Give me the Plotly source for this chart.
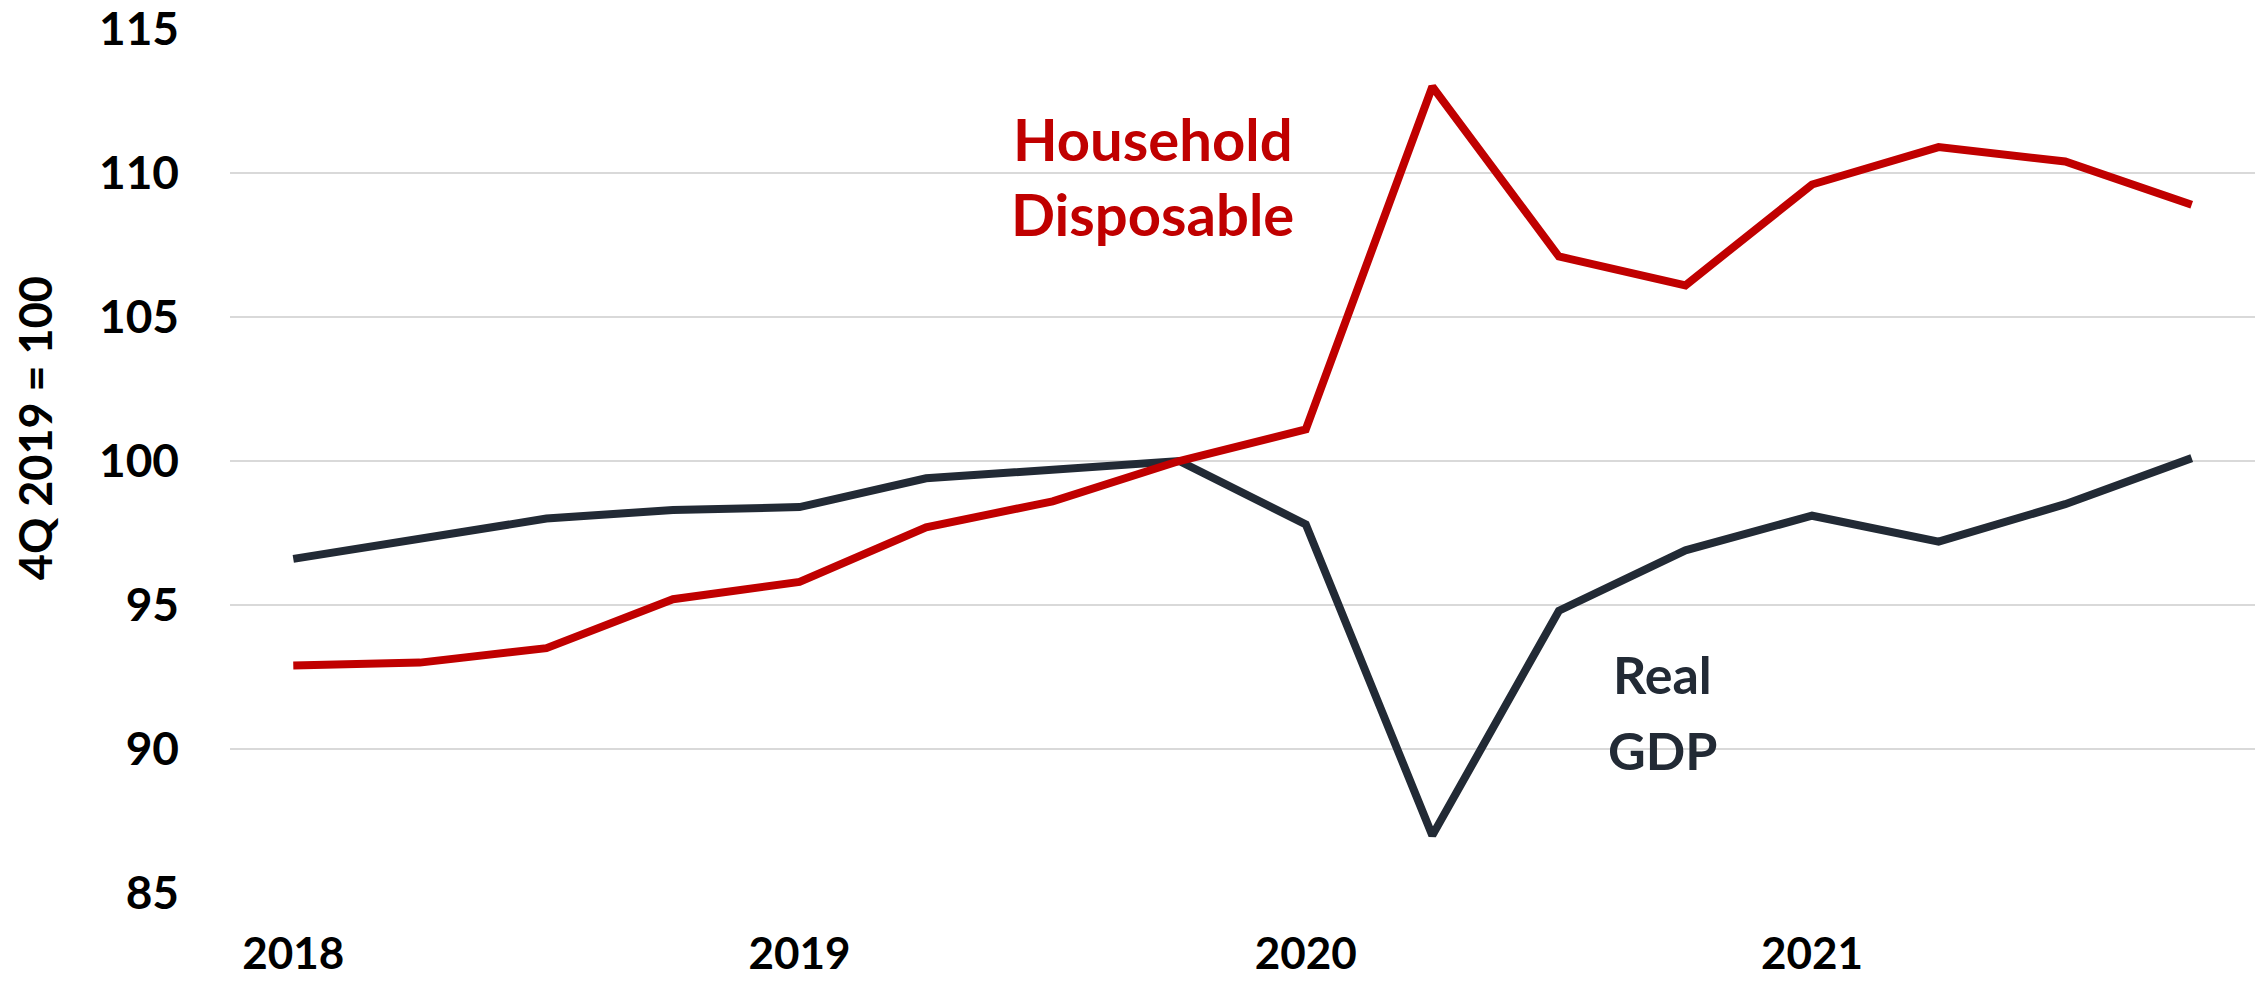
import plotly.graph_objects as go

# Quarterly index levels, 4Q 2019 = 100
quarters = ["2018Q1", "2018Q2", "2018Q3", "2018Q4",
            "2019Q1", "2019Q2", "2019Q3", "2019Q4",
            "2020Q1", "2020Q2", "2020Q3", "2020Q4",
            "2021Q1", "2021Q2", "2021Q3", "2021Q4"]
real_gdp = [96.6, 97.3, 98.0, 98.3, 98.4, 99.4, 99.7, 100.0,
            97.8, 87.0, 94.8, 96.9, 98.1, 97.2, 98.5, 100.1]
household_disposable = [92.9, 93.0, 93.5, 95.2, 95.8, 97.7, 98.6, 100.0,
                        101.1, 113.0, 107.1, 106.1, 109.6, 110.9, 110.4, 108.9]
year_ticks = ["2018", "2019", "2020", "2021"]
y_ticks = [85, 90, 95, 100, 105, 110, 115]

RED = "#C00000"
DARK = "#222A35"
FONT = "Lato"

x_idx = list(range(len(quarters)))

fig = go.Figure()
fig.add_trace(go.Scatter(x=x_idx, y=real_gdp, mode="lines",
                         line=dict(color=DARK, width=8), name="Real GDP"))
fig.add_trace(go.Scatter(x=x_idx, y=household_disposable, mode="lines",
                         line=dict(color=RED, width=8), name="Household Disposable"))

fig.update_layout(
    width=2265, height=983,
    margin=dict(l=230, r=10, t=29, b=90),
    paper_bgcolor="white", plot_bgcolor="white",
    showlegend=False,
    font=dict(family=FONT, color="black"),
)
fig.update_xaxes(
    range=[-0.5, len(quarters) - 0.5],
    tickmode="array",
    tickvals=[quarters.index(y + "Q1") for y in year_ticks],
    ticktext=year_ticks,
    tickfont=dict(family=FONT, size=44, color="black", weight="bold"),
    showgrid=False, zeroline=False, showline=False, ticks="",
    ticklabelstandoff=31, automargin=False,
)
fig.update_yaxes(
    range=[85, 115],
    tickmode="array", tickvals=y_ticks,
    tickfont=dict(family=FONT, size=46, color="black", weight="bold"),
    showgrid=True, gridcolor="#D9D9D9", gridwidth=2,
    zeroline=False, showline=False, ticks="",
    ticklabelstandoff=50, automargin=False,
)

# Axis title
fig.add_annotation(text="<b>4Q 2019 = 100</b>", xref="paper", yref="paper",
                   x=-0.0963, y=0.538, textangle=-90, showarrow=False,
                   font=dict(family=FONT, size=45, color="black"),
                   xanchor="center", yanchor="middle")

# Series labels
for txt, x, y in [("Household", 6.79, 111.2), ("Disposable", 6.79, 108.6)]:
    fig.add_annotation(text="<b>%s</b>" % txt, x=x, y=y, showarrow=False,
                       font=dict(family=FONT, size=58, color=RED),
                       xanchor="center", yanchor="middle")
for txt, x, y in [("Real", 10.82, 92.6), ("GDP", 10.82, 89.95)]:
    fig.add_annotation(text="<b>%s</b>" % txt, x=x, y=y, showarrow=False,
                       font=dict(family=FONT, size=52, color=DARK),
                       xanchor="center", yanchor="middle")

fig.write_html("out.html")
